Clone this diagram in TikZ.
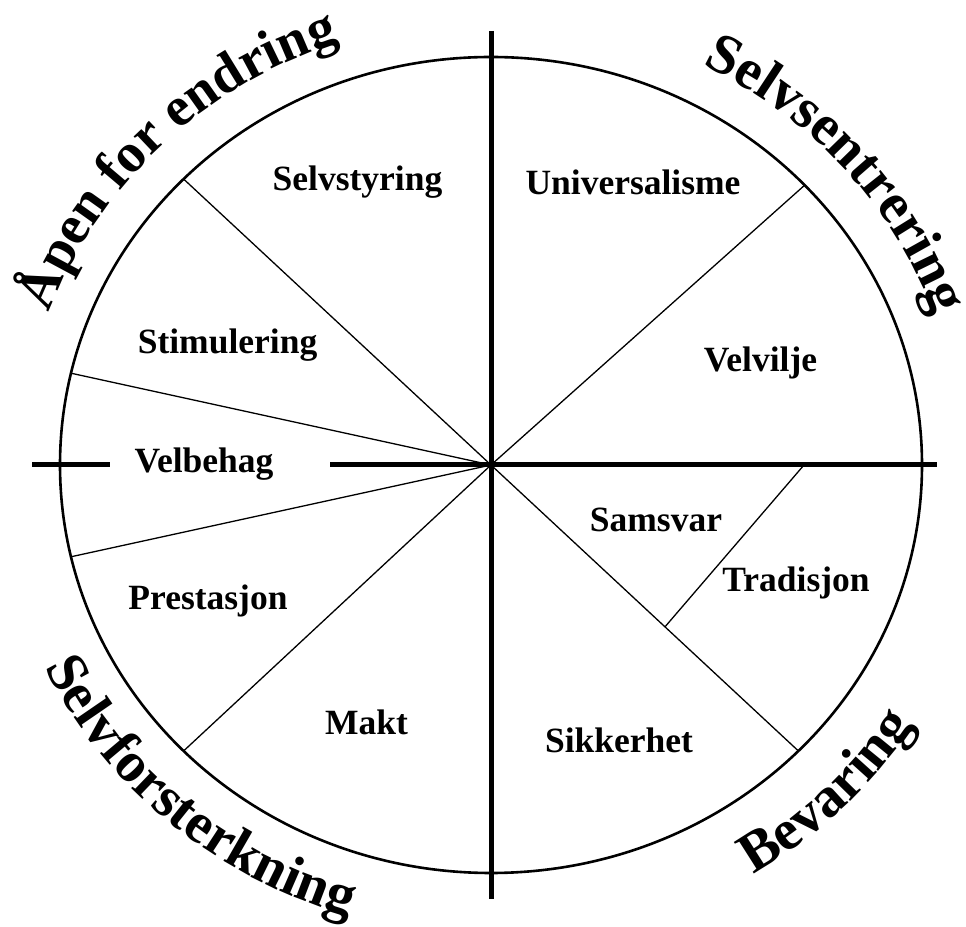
\documentclass[tikz,border=0pt]{standalone}
\usepackage{fontspec}
\setmainfont{Liberation Serif}
\usetikzlibrary{decorations.text,calc}
\newcommand\outerfont{\bfseries\fontsize{57}{60}\selectfont}
\newcommand\outerfontb{\bfseries\fontsize{55.5}{60}\selectfont}
\begin{document}
\begin{tikzpicture}[x=1pt,y=1pt,
  ring/.style={line width=2.6pt},
  spoke/.style={line width=1.3pt},
  axisline/.style={line width=5pt},
  lbl/.style={font=\bfseries\fontsize{35.5}{40}\selectfont, anchor=base, inner sep=0pt}
]
\useasboundingbox (0,0) rectangle (966,926);
\coordinate (O) at (491,461);
% spoke ends on the ring
\path (O) ++(135.5:431pt and 408pt) coordinate (s1);
\path (O) ++(167:431pt and 408pt) coordinate (s2);
\path (O) ++(193:431pt and 408pt) coordinate (s3);
\path (O) ++(224.5:431pt and 408pt) coordinate (s4);
\path (O) ++(43.3:431pt and 408pt) coordinate (s5);
\path (O) ++(315.5:431pt and 408pt) coordinate (s6);
\coordinate (t1) at ($(O)!0.566!(s6)$);
\coordinate (t2) at (804,461);
\foreach \s in {s1,s2,s3,s4,s5,s6} \draw[spoke] (O) -- (\s);
\draw[spoke] (t1) -- (t2);
\draw[ring] (O) ellipse[x radius=431pt, y radius=408pt];
% axes
\coordinate (vt) at (491,895);
\coordinate (vb) at (491,27);
\coordinate (hl1) at (32,461);
\coordinate (hl2) at (110,461);
\coordinate (hr1) at (330,461);
\coordinate (hr2) at (937,461);
\draw[axisline] (vt) -- (vb);
\draw[axisline] (hl1) -- (hl2);
\draw[axisline] (hr1) -- (hr2);
% sector labels
\node[lbl] (selvstyring) at (357.5,735) {Selvstyring};
\node[lbl] (universalisme) at (633,731) {Universalisme};
\node[lbl] (stimulering) at (227.5,572) {Stimulering};
\node[lbl] (velvilje) at (760.5,554) {Velvilje};
\node[lbl] (velbehag) at (204,453) {Velbehag};
\node[lbl] (samsvar) at (656,394) {Samsvar};
\node[lbl] (tradisjon) at (796,334) {Tradisjon};
\node[lbl] (prestasjon) at (208,316) {Prestasjon};
\node[lbl] (makt) at (366.5,191) {Makt};
\node[lbl] (sikkerhet) at (619,173) {Sikkerhet};
% outer curved labels
\path[decorate, decoration={text along path, text align=center, text={|\outerfontb|Åpen for endring}}]
  (O) ++(185:470pt and 447pt) arc[start angle=185, end angle=85, x radius=470pt, y radius=447pt];
\path[decorate, decoration={text along path, text align=center, text={|\outerfont|Selvsentrering}}]
  (O) ++(90.7:471pt and 448pt) arc[start angle=90.7, end angle=-9.3, x radius=471pt, y radius=448pt];
\path[decorate, decoration={text along path, text align=center, text={|\outerfont|Selvforsterkning}}]
  (O) ++(178.8:494pt and 471pt) arc[start angle=178.8, end angle=278.8, x radius=494pt, y radius=471pt];
\path[decorate, decoration={text along path, text align=center, text={|\outerfont|Bevaring}}]
  (O) ++(265.1:503pt and 480pt) arc[start angle=265.1, end angle=365.1, x radius=503pt, y radius=480pt];
\end{tikzpicture}
\end{document}
